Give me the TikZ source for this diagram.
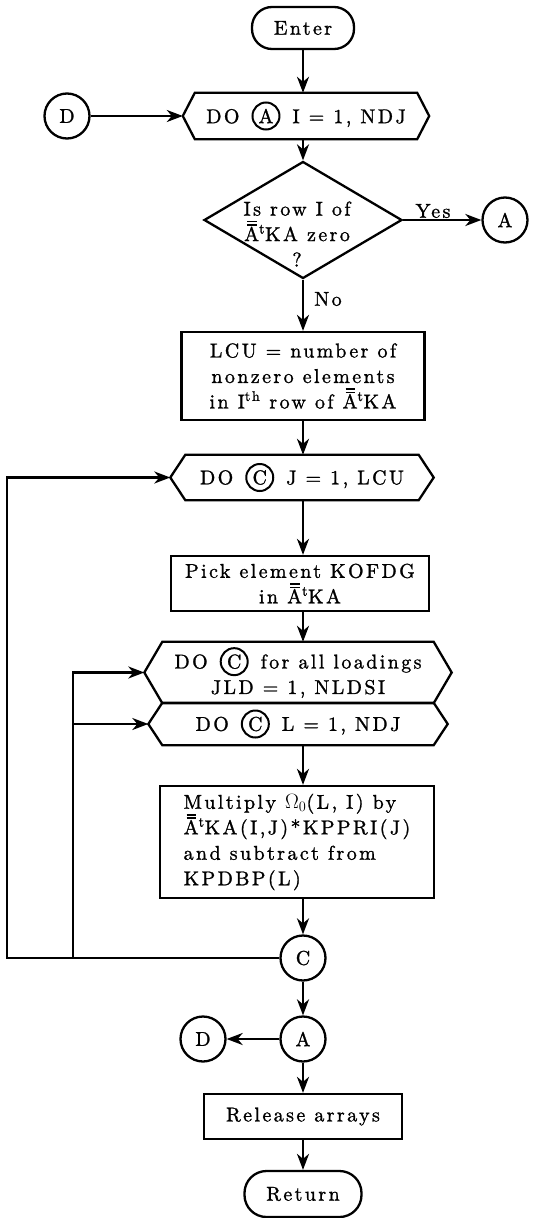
\documentclass[tikz,border=0pt]{standalone}
\usepackage{fontspec}
\setmainfont{lmroman10-regular.otf}[LetterSpace=12,FakeBold=1.2]
\usetikzlibrary{shapes.geometric,arrows.meta,calc}

% A with a double bar and superscript t
\newcommand\Att{\makebox[0pt][l]{\hspace{3pt}\raisebox{15.5pt}{\rule{9.5pt}{1.3pt}}}%
  \makebox[0pt][l]{\hspace{3pt}\raisebox{18.7pt}{\rule{9.5pt}{1.3pt}}}A\textsuperscript{t}}
% small ringed connector letter used inside DO statements
\newcommand\ringed[1]{\tikz[baseline=(rl.base)]\node[circle,draw,line width=2pt,inner sep=0pt,minimum size=27pt](rl){#1};}
% hexagonal DO-loop frame around a text node: #1 node name, #2 point depth
\newcommand\hexframe[2]{\draw[frame] ([xshift=-#2]#1.west) coordinate (#1-l) -- (#1.north west) -- (#1.north east) -- ([xshift=#2]#1.east) coordinate (#1-r) -- (#1.south east) -- (#1.south west) -- cycle;}

\begin{document}
\begin{tikzpicture}[x=1pt,y=-1pt,font=\fontsize{20}{25.5}\selectfont,
  frame/.style={line width=2.3pt,line join=miter},
  arr/.style={line width=2.3pt,-{Stealth[length=16pt,width=12pt,inset=5pt]}},
  box/.style={draw,line width=2.3pt,rectangle,inner sep=0pt,align=center},
  term/.style={box,rounded corners=20pt},
  dotext/.style={rectangle,inner sep=0pt,align=center},
  conn/.style={circle,draw,line width=2.3pt,inner sep=0pt,minimum size=45pt},
  lbl/.style={inner sep=0pt}]
\useasboundingbox (0,0) rectangle (545,1218);

\coordinate (axis) at (303,0);
\coordinate (ox) at (7,0);
\coordinate (ix) at (73,0);

% nodes
\node[term,minimum width=102pt,minimum height=42pt] (enter) at (303,28) {Enter};
\node[conn] (d1) at (67,116) {D};
\node[dotext,minimum width=222pt,minimum height=46pt] (doa) at (306,116) {DO\hspace{12pt}\ringed{A}\hspace{12pt}I = 1, NDJ};
\hexframe{doa}{12pt}
\node[diamond,draw,line width=2.3pt,minimum width=198pt,minimum height=117pt,inner sep=0pt] (q) at (303,220) {};
\node[lbl,align=center] (qtxt) at (297,234) {Is row I of\\\Att KA zero\\?};
\node[lbl] (yes) at (433,211) {Yes};
\node[conn] (a1) at (505,220) {A};
\node[lbl] (no) at (328,299) {No};
\node[box,minimum width=243pt,minimum height=88pt] (lcu) at (303,376) {LCU = number of\\nonzero elements\\in I\textsuperscript{th} row of \Att KA};
\node[dotext,minimum width=233pt,minimum height=45pt] (doc) at (302,477.5) {DO\hspace{12pt}\ringed{C}\hspace{12pt}J = 1, LCU};
\hexframe{doc}{15pt}
\node[box,minimum width=258pt,minimum height=55pt] (pick) at (300,583.5) {Pick element KOFDG\\in \Att KA};
\node[dotext,minimum width=271pt,minimum height=61pt] (dolo) at (298,672.5) {DO\hspace{12pt}\ringed{C}\hspace{12pt}for all loadings\\JLD = 1, NLDSI};
\hexframe{dolo}{18pt}
\node[dotext,minimum width=271pt,minimum height=42pt] (dol) at (298,724) {DO\hspace{12pt}\ringed{C}\hspace{12pt}L = 1, NDJ};
\hexframe{dol}{14pt}
\node[box,align=left,minimum width=274pt,minimum height=112pt] (mul) at (297,842) {Multiply $\Omega_0$(L, I) by\\\Att KA(I,J)*KPPRI(J)\\and subtract from\\KPDBP(L)};
\node[conn] (c) at (303,958) {C};
\node[conn] (a2) at (303,1039) {A};
\node[conn] (d2) at (203,1039) {D};
\node[box,minimum width=198pt,minimum height=45pt] (rel) at (303,1116.5) {Release arrays};
\node[term,minimum width=117pt,minimum height=46pt,rounded corners=22pt] (ret) at (303,1194) {Return};

% main flow
\draw[arr] (enter.south) -- (axis |- doa.north);
\draw[arr] (d1.east) -- (doa-l);
\draw[arr] (axis |- doa.south) -- (q.north);
\draw[arr] (q.east) -- (a1.west);
\draw[arr] (q.south) -- (axis |- lcu.north);
\draw[arr] (lcu.south) -- (axis |- doc.north);
\draw[arr] (axis |- doc.south) -- (axis |- pick.north);
\draw[arr] (axis |- pick.south) -- (axis |- dolo.north);
\draw[arr] (axis |- dol.south) -- (axis |- mul.north);
\draw[arr] (axis |- mul.south) -- (c.north);
\draw[arr] (c.south) -- (a2.north);
\draw[arr] (a2.west) -- (d2.east);
\draw[arr] (a2.south) -- (axis |- rel.north);
\draw[arr] (rel.south) -- (ret.north);

% loop returns
\draw[arr] (c.west) -- (ox |- c.west) -- (ox |- doc-l) -- (doc-l);
\draw[arr] (ix |- c.west) -- (ix |- dolo-l) -- (dolo-l);
\draw[arr] (ix |- dol-l) -- (dol-l);
\end{tikzpicture}
\end{document}
